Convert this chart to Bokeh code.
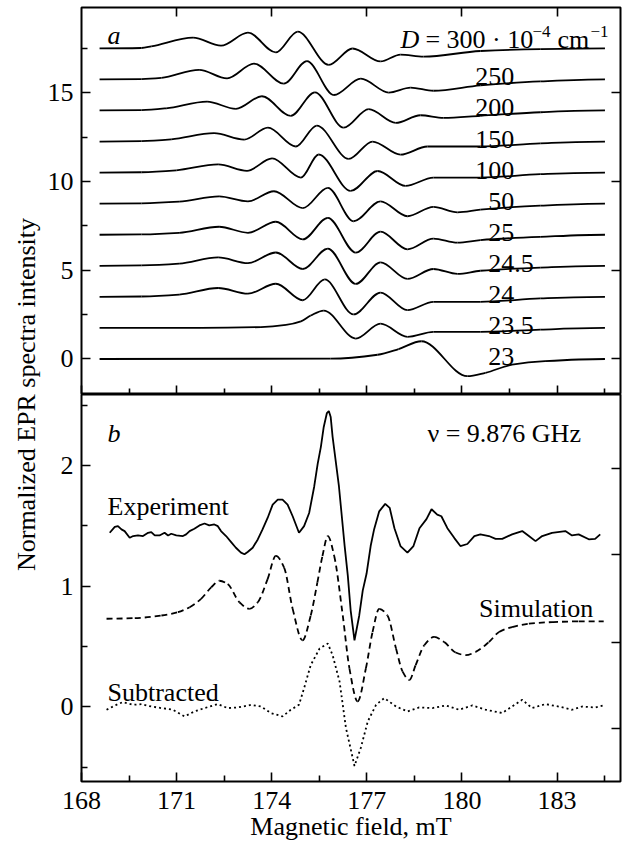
import numpy as np
from bokeh.plotting import figure
from bokeh.models import Range1d, FixedTicker, LinearAxis, Label, ColumnDataSource
from bokeh.layouts import row, column
from bokeh.embed import file_html
from bokeh.resources import INLINE

FONT = "Liberation Serif"
FS = "26px"
FS_SUP = "17px"

# ---------------- data ----------------
d_labels = ["23", "23.5", "24", "24.5", "25", "50", "100", "150", "200", "250", "300"]
offsets = [0.0, 1.75, 3.5, 5.25, 7.0, 8.75, 10.5, 12.25, 14.0, 15.75, 17.5]

x_d300 = [168.57, 169.89, 170.20, 171.52, 172.40, 173.25, 174.13, 174.82, 175.80, 176.55, 177.43, 178.06, 178.79, 180.58, 182.47, 184.51]
y_d300 = [0.00, 0.02, 0.11, 0.60, 0.15, 0.88, -0.23, 0.94, -0.93, -0.01, -0.74, -0.35, -0.47, -0.15, -0.04, 0.00]

x_d250 = [168.57, 169.89, 170.52, 171.71, 172.59, 173.44, 174.38, 175.11, 175.96, 176.81, 177.69, 178.38, 179.10, 180.58, 182.47, 184.51]
y_d250 = [0.00, 0.02, 0.09, 0.54, 0.06, 0.89, -0.24, 1.03, -0.88, 0.04, -0.74, -0.46, -0.64, -0.34, -0.11, 0.00]

x_d200 = [168.57, 169.89, 170.67, 171.96, 172.87, 173.69, 174.60, 175.36, 176.27, 177.06, 177.91, 178.69, 179.42, 180.58, 182.47, 184.51]
y_d200 = [0.00, 0.02, 0.12, 0.50, 0.09, 0.80, -0.30, 1.02, -0.97, 0.07, -0.70, -0.27, -0.42, -0.30, -0.10, 0.00]

x_d150 = [168.57, 169.89, 170.83, 172.18, 173.13, 173.88, 174.76, 175.42, 176.43, 177.18, 178.06, 178.91, 180.58, 182.47, 184.51]
y_d150 = [0.00, 0.02, 0.12, 0.47, 0.11, 0.78, -0.28, 0.90, -0.98, 0.00, -0.74, -0.28, -0.28, -0.10, 0.00]

x_d100 = [168.57, 169.89, 170.99, 172.31, 173.22, 174.01, 174.92, 175.48, 176.49, 177.34, 178.22, 179.10, 180.58, 182.47, 184.51]
y_d100 = [0.00, 0.02, 0.13, 0.46, 0.10, 0.80, -0.28, 1.02, -1.03, 0.09, -0.75, -0.28, -0.28, -0.09, 0.00]

x_d50 = [168.57, 169.89, 171.08, 172.34, 173.25, 174.07, 174.98, 175.77, 176.58, 177.43, 178.28, 179.10, 179.86, 180.58, 182.47, 184.51]
y_d50 = [0.00, 0.02, 0.11, 0.41, 0.13, 0.70, -0.25, 0.89, -0.99, 0.13, -0.71, -0.18, -0.49, -0.34, -0.11, 0.00]

x_d25 = [168.57, 169.89, 171.08, 172.34, 173.25, 174.13, 174.98, 175.77, 176.65, 177.43, 178.28, 179.10, 179.86, 180.58, 182.47, 184.51]
y_d25 = [0.00, 0.02, 0.11, 0.45, 0.11, 0.73, -0.26, 0.95, -1.01, 0.17, -0.82, -0.22, -0.45, -0.30, -0.12, 0.00]

x_d24_5 = [168.57, 169.89, 171.08, 172.31, 173.25, 174.13, 174.98, 175.77, 176.65, 177.43, 178.28, 179.10, 179.86, 180.58, 182.47, 184.51]
y_d24_5 = [0.00, 0.02, 0.12, 0.47, 0.15, 0.75, -0.18, 0.97, -1.02, 0.19, -0.74, -0.18, -0.46, -0.28, -0.10, 0.00]

x_d24 = [168.57, 169.89, 171.08, 172.31, 173.25, 174.13, 174.98, 175.67, 176.58, 177.43, 178.28, 179.10, 180.58, 182.47, 184.51]
y_d24 = [0.00, 0.02, 0.13, 0.50, 0.18, 0.74, -0.19, 0.98, -0.99, 0.24, -0.75, -0.28, -0.28, -0.09, 0.00]

x_d23_5 = [168.57, 171.77, 173.66, 174.45, 174.92, 175.23, 175.64, 176.65, 177.43, 178.28, 179.10, 180.58, 182.47, 184.51]
y_d23_5 = [0.00, 0.00, 0.05, 0.17, 0.37, 0.70, 0.98, -0.60, 0.24, -0.50, -0.22, -0.22, -0.09, 0.00]

x_d23 = [168.57, 175.86, 177.34, 178.00, 178.72, 180.17, 180.74, 181.58, 182.62, 184.51]
y_d23 = [0.00, 0.02, 0.24, 0.56, 1.00, -0.97, -0.78, -0.32, -0.12, 0.00]

exp_x = [168.89, 169.05, 169.15, 169.26, 169.36, 169.52, 169.63, 169.78, 169.94, 170.10, 170.20, 170.31, 170.46, 170.62,
         170.73, 170.83, 170.99, 171.20, 171.30, 171.41, 171.56, 171.72, 171.88, 172.03, 172.19, 172.30, 172.40, 172.56,
         172.72, 172.87, 173.03, 173.14, 173.24, 173.40, 173.56, 173.71, 173.87, 174.03, 174.19, 174.34, 174.50, 174.66,
         174.86, 175.02, 175.18, 175.34, 175.45, 175.55, 175.64, 175.74, 175.80, 175.86, 175.92, 176.02, 176.12, 176.21,
         176.30, 176.40, 176.49, 176.61, 176.76, 176.87, 176.99, 177.12, 177.23, 177.39, 177.58, 177.72, 177.87, 178.06,
         178.28, 178.47, 178.66, 178.88, 179.04, 179.22, 179.35, 179.54, 179.76, 179.95, 180.17, 180.39, 180.58, 180.85,
         181.06, 181.27, 181.58, 181.90, 182.11, 182.32, 182.53, 182.84, 183.26, 183.47, 183.68, 184.00, 184.20, 184.36]
exp_y = [1.443, 1.492, 1.498, 1.471, 1.457, 1.402, 1.416, 1.421, 1.416, 1.443, 1.449, 1.421, 1.421, 1.443,
         1.421, 1.435, 1.421, 1.416, 1.430, 1.457, 1.476, 1.504, 1.520, 1.504, 1.512, 1.498, 1.457, 1.416,
         1.366, 1.319, 1.278, 1.265, 1.284, 1.319, 1.388, 1.471, 1.566, 1.677, 1.718, 1.718, 1.677, 1.580,
         1.443, 1.498, 1.607, 1.827, 2.016, 2.156, 2.321, 2.436, 2.453, 2.403, 2.239, 2.033, 1.827, 1.580,
         1.333, 1.086, 0.798, 0.551, 0.757, 0.963, 1.103, 1.333, 1.473, 1.621, 1.683, 1.650, 1.481, 1.333,
         1.278, 1.333, 1.481, 1.556, 1.638, 1.594, 1.580, 1.481, 1.399, 1.333, 1.350, 1.416, 1.430, 1.416,
         1.393, 1.393, 1.430, 1.457, 1.416, 1.374, 1.416, 1.443, 1.457, 1.421, 1.430, 1.389, 1.393, 1.430]

sim_x = [168.79, 169.68, 170.52, 171.04, 171.41, 171.77, 172.09, 172.35, 172.61, 172.98, 173.29, 173.56, 173.87, 174.13,
         174.39, 174.66, 174.97, 175.23, 175.44, 175.60, 175.77, 175.97, 176.24, 176.45, 176.71, 176.97, 177.18, 177.39,
         177.65, 177.92, 178.13, 178.34, 178.54, 178.81, 179.12, 179.44, 179.80, 180.12, 180.43, 180.85, 181.17, 181.58,
         182.11, 182.84, 183.68, 184.47]
sim_y = [0.730, 0.735, 0.757, 0.784, 0.826, 0.895, 0.990, 1.045, 1.018, 0.867, 0.812, 0.867, 1.059, 1.251,
         1.155, 0.812, 0.551, 0.757, 1.031, 1.251, 1.416, 1.251, 0.757, 0.319, 0.044, 0.319, 0.620, 0.812,
         0.757, 0.483, 0.291, 0.222, 0.346, 0.510, 0.579, 0.537, 0.450, 0.428, 0.455, 0.537, 0.620, 0.661,
         0.689, 0.702, 0.708, 0.708]

sub_x = [168.79, 169.10, 169.31, 169.63, 169.89, 170.20, 170.52, 170.88, 171.25, 171.56, 171.88, 172.30, 172.61, 172.93,
         173.35, 173.66, 173.97, 174.34, 174.60, 174.86, 175.02, 175.23, 175.51, 175.77, 175.92, 176.14, 176.34, 176.61,
         176.81, 177.03, 177.29, 177.55, 177.92, 178.28, 178.65, 179.07, 179.49, 179.91, 180.33, 180.75, 181.27, 181.58,
         181.90, 182.21, 182.63, 183.05, 183.47, 183.79, 184.20, 184.47]
sub_y = [-0.025, 0.016, 0.039, 0.016, 0.022, 0.002, -0.011, -0.025, -0.080, -0.039, -0.011, 0.022, -0.011, -0.006,
         0.016, 0.002, -0.052, -0.080, -0.025, 0.016, 0.154, 0.346, 0.483, 0.524, 0.428, 0.208, -0.175, -0.491,
         -0.340, -0.121, 0.016, 0.072, 0.002, -0.039, -0.006, -0.011, 0.011, -0.025, 0.011, -0.025, -0.052, 0.002,
         0.058, -0.011, 0.022, 0.002, -0.025, 0.002, -0.006, 0.011]

x_major = [168, 171, 174, 177, 180, 183]
x_minor = [169.5, 172.5, 175.5, 178.5, 181.5, 184.5]
ya_major = [0, 5, 10, 15]
ya_minor = [2.5, 7.5, 12.5, 17.5]
yb_major = [0, 1, 2]
yb_minor = [-0.5, 0.5, 1.5, 2.5]
yb_right = [-0.18, 0.535, 1.26, 1.975]

top_curves = [(x_d23, y_d23), (x_d23_5, y_d23_5), (x_d24, y_d24), (x_d24_5, y_d24_5), (x_d25, y_d25),
              (x_d50, y_d50), (x_d100, y_d100), (x_d150, y_d150), (x_d200, y_d200), (x_d250, y_d250),
              (x_d300, y_d300)]


# smooth drawing: cubic Bezier segments through the read points (monotone Hermite tangents)
def bezier_source(xs, ys, off=0.0):
    x = np.asarray(xs, float)
    y = np.asarray(ys, float) + off
    h = np.diff(x)
    d = np.diff(y) / h
    m = np.zeros_like(y)
    for k in range(1, len(x) - 1):
        if d[k - 1] * d[k] > 0:
            w1 = 2 * h[k] + h[k - 1]
            w2 = h[k] + 2 * h[k - 1]
            m[k] = (w1 + w2) / (w1 / d[k - 1] + w2 / d[k])
    return ColumnDataSource(dict(
        x0=x[:-1], y0=y[:-1], x1=x[1:], y1=y[1:],
        cx0=x[:-1] + h / 3, cy0=y[:-1] + m[:-1] * h / 3,
        cx1=x[1:] - h / 3, cy1=y[1:] - m[1:] * h / 3))


def tick_axis(ax, major, minor, labels):
    ax.ticker = FixedTicker(ticks=major, minor_ticks=minor)
    ax.major_tick_in = 9
    ax.major_tick_out = 0
    ax.minor_tick_in = 6
    ax.minor_tick_out = 0
    ax.major_tick_line_width = 1.6
    ax.minor_tick_line_width = 1.6
    ax.major_tick_line_color = "black"
    ax.minor_tick_line_color = "black"
    ax.axis_line_color = None
    if labels:
        ax.major_label_text_font = FONT
        ax.major_label_text_font_size = FS
        ax.major_label_text_color = "black"
        ax.major_label_standoff = 8
    else:
        ax.major_label_text_font_size = "0px"
        ax.major_label_text_color = None
        ax.major_label_text_alpha = 0
        ax.major_label_standoff = 0


def text(p, x, y, s, italic=False, x_offset=0, y_offset=0, size=FS):
    p.add_layout(Label(x=x, y=y, text=s, x_offset=x_offset, y_offset=y_offset, text_font=FONT,
                       text_font_size=size, text_font_style="italic" if italic else "normal",
                       text_color="black", text_baseline="alphabetic", text_align="left"))


FW, FH = 539, 387
xr = Range1d(168, 185)
common = dict(frame_width=FW, frame_height=FH, x_range=xr, output_backend="svg",
              toolbar_location=None, min_border_left=36, min_border_right=5)

# ---------------- panel a ----------------
pa = figure(y_range=Range1d(-2.0, 19.8), min_border_top=7, min_border_bottom=0, **common)
pa.grid.visible = False
pa.outline_line_color = "black"
pa.outline_line_width = 2
pa.background_fill_color = "white"
pa.border_fill_color = "white"
tick_axis(pa.xaxis[0], x_major, x_minor, False)
tick_axis(pa.yaxis[0], ya_major, ya_minor, True)
ax_top = LinearAxis()
tick_axis(ax_top, x_major[1:], [], False)
pa.add_layout(ax_top, "above")
ax_r = LinearAxis()
tick_axis(ax_r, ya_major, [], False)
pa.add_layout(ax_r, "right")

for (xs, ys), off in zip(top_curves, offsets):
    pa.bezier(x0="x0", y0="y0", x1="x1", y1="y1", cx0="cx0", cy0="cy0", cx1="cx1", cy1="cy1",
              source=bezier_source(xs, ys, off), line_color="black", line_width=1.8)

for lab, off in zip(d_labels[:-1], offsets[:-1]):
    n_int = len(lab.split(".")[0])
    text(pa, 181.65, off + 0.14, lab, x_offset=-13 * n_int)

# "D = 300 · 10^-4 cm^-1" built from pieces (italic D, raised exponents)
DX, DY = 178.06, 18.0
text(pa, DX, DY, "D", italic=True)
text(pa, DX, DY, "= 300 \u00b7 10", x_offset=25)
text(pa, DX, DY, "\u22124", x_offset=132, y_offset=8, size=FS_SUP)
text(pa, DX, DY, "cm", x_offset=157)
text(pa, DX, DY, "\u22121", x_offset=190, y_offset=8, size=FS_SUP)
text(pa, 168.82, 18.2, "a", italic=True)

# ---------------- panel b ----------------
pb = figure(y_range=Range1d(-0.62, 2.59), min_border_top=0, min_border_bottom=0, **common)
pb.grid.visible = False
pb.outline_line_color = "black"
pb.outline_line_width = 2
pb.background_fill_color = "white"
pb.border_fill_color = "white"
tick_axis(pb.xaxis[0], x_major, x_minor, True)
pb.xaxis[0].major_label_standoff = 10
pb.xaxis[0].axis_label = "Magnetic field, mT"
pb.xaxis[0].axis_label_text_font = FONT
pb.xaxis[0].axis_label_text_font_size = FS
pb.xaxis[0].axis_label_text_font_style = "normal"
pb.xaxis[0].axis_label_text_color = "black"
pb.xaxis[0].axis_label_standoff = 0
tick_axis(pb.yaxis[0], yb_major, yb_minor, True)
ax_rb = LinearAxis()
tick_axis(ax_rb, yb_right, [], False)
pb.add_layout(ax_rb, "right")

pb.line(exp_x, exp_y, line_color="black", line_width=1.8)
pb.bezier(x0="x0", y0="y0", x1="x1", y1="y1", cx0="cx0", cy0="cy0", cx1="cx1", cy1="cy1",
          source=bezier_source(sim_x, sim_y), line_color="black", line_width=1.8, line_dash="6 4")
pb.line(sub_x, sub_y, line_color="black", line_width=1.8, line_dash="2 3")

text(pb, 168.82, 2.27, "b", italic=True)
text(pb, 178.91, 2.27, "\u03bd = 9.876 GHz")
text(pb, 168.82, 1.66, "Experiment")
text(pb, 180.54, 0.815, "Simulation")
text(pb, 168.82, 0.12, "Subtracted")

# ---------------- shared y-axis title ----------------
LW = 44
LH = 7 + 2 * FH + 7
pl = figure(width=LW, height=LH, x_range=Range1d(0, LW), y_range=Range1d(0, LH), output_backend="svg",
            toolbar_location=None, min_border=0, x_axis_location=None, y_axis_location=None)
pl.grid.visible = False
pl.outline_line_color = None
pl.add_layout(Label(x=26, y=LH / 2, text="Normalized EPR spectra intensity", angle=np.pi / 2,
                    text_align="center", text_baseline="middle", text_font=FONT,
                    text_font_size=FS, text_color="black"))

layout = row(pl, column(pa, pb))
open("out.html", "w").write(file_html(layout, INLINE))
